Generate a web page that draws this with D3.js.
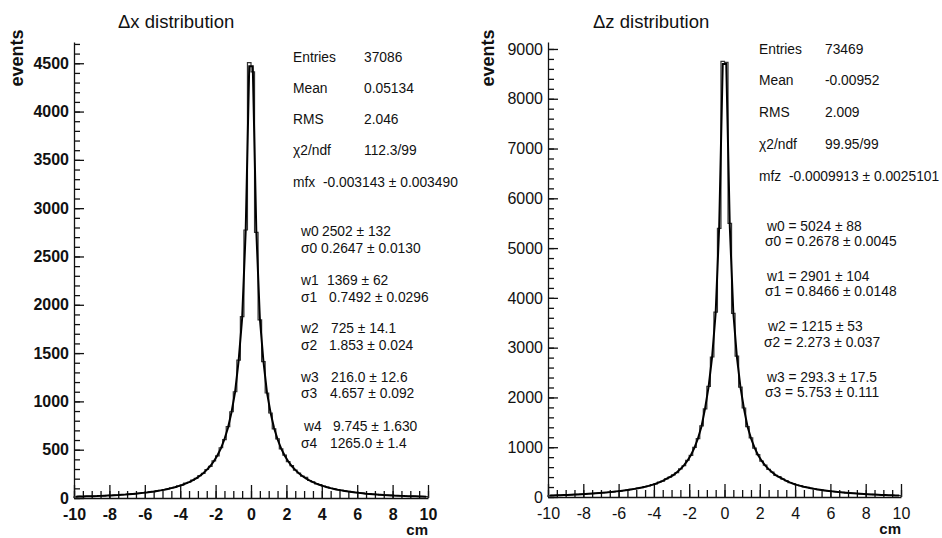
<!DOCTYPE html>
<html>
<head>
<meta charset="utf-8">
<script src="https://cdn.jsdelivr.net/npm/d3@7"></script>
<style>
  body { margin: 0; background: #fff; }
  text { font-family: "Liberation Sans", Arial, Helvetica, sans-serif; fill: #111; }
</style>
</head>
<body>
<script>
var width = 942;
var height = 538;

// bins: 100 bins of 0.2 cm from -10 to 10, values listed from the left edge
var dxCounts = [13,16,15,18,17,20,20,23,23,27, 27,31,31,35,36,41,42,47,49,55,
    57,64,67,75,78,88,93,104,111,125, 134,155,163,186,203,231,255,295,328,384,
    436,520,605,738,893,1100,1428,1877,2774,4506,
    4410,2750,1843,1411,1087,880,715,612,508,444, 376,335,288,259,226,214,181,167,147,138,
    122,114,101,96,86,81,73,69,62,59, 53,51,45,44,39,38,33,33,29,29,
    25,25,21,22,18,19,16,17,14,15];
var dxFit = [14,15,16,17,18,19,20,22,24,25, 27,29,31,34,36,39,42,45,49,53,
    57,62,67,73,79,86,94,102,112,123, 135,149,165,183,204,228,257,291,331,380,
    440,514,608,728,888,1095,1420,1860,2765,4470,
    4470,2765,1860,1420,1095,888,728,608,514,440, 380,331,291,257,228,204,183,165,149,135,
    123,112,102,94,86,79,73,67,62,57, 53,49,45,42,39,36,34,31,29,27,
    25,24,22,20,19,18,17,16,15,14];

var dzCounts = [28,32,33,37,38,43,44,49,51,57, 59,65,68,75,78,86,90,99,104,114,
    120,131,139,152,161,178,188,208,221,247, 263,298,320,366,399,446,489,566,628,738,
    838,998,1172,1428,1772,2222,2812,3712,5395,8750,
    8730,5496,3690,2828,2208,1788,1412,1188,982,852, 722,642,554,502,434,411,358,330,290,271,
    241,227,204,192,174,165,150,141,129,122, 112,106,97,92,84,80,73,70,63,61,
    55,53,47,46,41,40,35,35,30,30];
var dzFit = [29,31,34,36,39,42,45,48,52,56, 60,64,69,74,79,85,91,98,105,113,
    121,130,140,151,163,176,190,206,224,244, 267,294,325,362,400,440,495,560,635,730,
    845,990,1180,1420,1780,2215,2820,3700,5440,8700,
    8700,5440,3700,2820,2215,1780,1420,1180,990,845, 730,635,560,495,440,400,362,325,294,267,
    244,224,206,190,176,163,151,140,130,121, 113,105,98,91,85,79,74,69,64,60,
    56,52,48,45,42,39,36,34,31,29];

var xTicks = [-10,-8,-6,-4,-2,0,2,4,6,8,10];
var dxYTicks = [0,500,1000,1500,2000,2500,3000,3500,4000,4500];
var dzYTicks = [0,1000,2000,3000,4000,5000,6000,7000,8000,9000];

var dxStats = [["Entries","37086"],["Mean","0.05134"],["RMS","2.046"],["\u03c72/ndf","112.3/99"]];
var dzStats = [["Entries","73469"],["Mean","-0.00952"],["RMS","2.009"],["\u03c72/ndf","99.95/99"]];
var dxMean = "mfx  -0.003143 \u00b1 0.003490";
var dzMean = "mfz  -0.0009913 \u00b1 0.0025101";

var dxParams = [["w0","2502 \u00b1 132"],["\u03c30","0.2647 \u00b1 0.0130"],
    ["w1","1369 \u00b1 62"],["\u03c31","0.7492 \u00b1 0.0296"],
    ["w2","725 \u00b1 14.1"],["\u03c32","1.853 \u00b1 0.024"],
    ["w3","216.0 \u00b1 12.6"],["\u03c33","4.657 \u00b1 0.092"],
    ["w4","9.745 \u00b1 1.630"],["\u03c34","1265.0 \u00b1 1.4"]];
var dzParams = ["w0 = 5024 \u00b1 88","\u03c30 = 0.2678 \u00b1 0.0045",
    "w1 = 2901 \u00b1 104","\u03c31 = 0.8466 \u00b1 0.0148",
    "w2 = 1215 \u00b1 53","\u03c32 = 2.273 \u00b1 0.037",
    "w3 = 293.3 \u00b1 17.5","\u03c33 = 5.753 \u00b1 0.111"];

var svg = d3.select("body")
    .append("svg")
    .attr("width",width)
    .attr("height",height);

var binEdges = d3.range(101).map(function(i){ return -10 + i*0.2; });
var plain = function(d){ return String(d); };

function drawPanel(p){
    var g = svg.append("g");
    var x = d3.scaleLinear().domain([-10,10]).range([p.x0,p.x1]);
    var y = d3.scaleLinear().domain([0,p.ymax]).range([p.yb,42]);

    // y axis, ticks pointing inward
    var yMinor = d3.range(0,p.ymax,p.yminor);
    g.append("g")
        .attr("transform","translate("+p.x0+",0)")
        .call(d3.axisLeft(y).tickValues(yMinor).tickSizeInner(-6).tickSizeOuter(0).tickFormat(""))
        .call(function(s){ s.select(".domain").remove(); });
    var ya = g.append("g")
        .attr("transform","translate("+p.x0+",0)")
        .call(d3.axisLeft(y).tickValues(p.yTicks).tickSizeInner(-10).tickSizeOuter(0).tickPadding(5).tickFormat(plain));
    ya.selectAll("text").style("font-size","16px").style("font-weight",p.bold ? "bold" : "normal");

    // x axis, ticks pointing up
    g.append("g")
        .attr("transform","translate(0,"+p.yb+")")
        .call(d3.axisBottom(x).tickValues(d3.range(-10,10.01,0.5)).tickSizeInner(-7).tickSizeOuter(0).tickFormat(""))
        .call(function(s){ s.select(".domain").remove(); });
    var xa = g.append("g")
        .attr("transform","translate(0,"+p.yb+")")
        .call(d3.axisBottom(x).tickValues(xTicks).tickSizeInner(-13).tickSizeOuter(0).tickPadding(11).tickFormat(plain));
    xa.selectAll("text").style("font-size","16px").style("font-weight",p.bold ? "bold" : "normal");

    g.selectAll(".domain, .tick line").attr("stroke","#111").attr("stroke-width",1.3);

    // histogram outline
    var pts = [[-10,0]];
    p.counts.forEach(function(c,i){
        pts.push([binEdges[i],c]);
        pts.push([binEdges[i+1],c]);
    });
    pts.push([10,0]);
    var line = d3.line()
        .x(function(d){ return x(d[0]); })
        .y(function(d){ return y(d[1]); });
    g.append("path")
        .attr("d",line(pts))
        .attr("fill","none")
        .attr("stroke","#333")
        .attr("stroke-width",1.2);

    // fit curve, sampled at bin centres
    var fpts = p.fit.map(function(v,i){ return [binEdges[i]+0.1,v]; });
    g.append("path")
        .attr("d",line(fpts))
        .attr("fill","none")
        .attr("stroke","#000")
        .attr("stroke-width",2);

    // titles
    g.append("text")
        .attr("x",p.titleX).attr("y",28)
        .style("font-size","18.5px")
        .text(p.title);
    g.append("text")
        .attr("transform","translate("+p.evX+",58) rotate(-90)")
        .attr("text-anchor","middle")
        .style("font-size","18px").style("font-weight","bold")
        .text("events");
    g.append("text")
        .attr("x",p.x1).attr("y",p.cmY)
        .attr("text-anchor","end")
        .style("font-size","15px").style("font-weight","bold")
        .text("cm");

    // stats
    var st = g.append("g").style("font-size","13.8px");
    p.stats.forEach(function(s,i){
        st.append("text").attr("x",p.statX).attr("y",p.statY[i]).text(s[0]);
        st.append("text").attr("x",p.valX).attr("y",p.statY[i]).text(s[1]);
    });
    st.append("text").attr("x",p.statX).attr("y",p.statY[4]).attr("xml:space","preserve").style("white-space","pre").text(p.mean);
    return st;
}

var stx = drawPanel({
    x0:74, x1:428, yb:498, ymax:4720, yminor:100, yTicks:dxYTicks, bold:true,
    counts:dxCounts, fit:dxFit, title:"\u0394x distribution", titleX:118, evX:23, cmY:535,
    stats:dxStats, statX:293, valX:364, statY:[62,93,124,155,187], mean:dxMean
});
var pxLab = [301,301,301,301,301,301,301,301,304,301];
var pxVal = [322,321,327,329,331,329,331,330,333,330];
var pyx = [236,253,285,302,333,350,382,398,431,448];
dxParams.forEach(function(d,i){
    stx.append("text").attr("x",pxLab[i]).attr("y",pyx[i]).text(d[0]);
    stx.append("text").attr("x",pxVal[i]).attr("y",pyx[i]).text(d[1]);
});

var stz = drawPanel({
    x0:548, x1:901, yb:497, ymax:9140, yminor:200, yTicks:dzYTicks, bold:false,
    counts:dzCounts, fit:dzFit, title:"\u0394z distribution", titleX:593, evX:494, cmY:534,
    stats:dzStats, statX:759, valX:825, statY:[54,85,117,149,181], mean:dzMean
});
var pzx = [767,765,767,765,768,764,767,765];
var pzy = [231,246,281,296,331,347,382,397];
dzParams.forEach(function(d,i){
    stz.append("text").attr("x",pzx[i]).attr("y",pzy[i]).text(d);
});
</script>
</body>
</html>
